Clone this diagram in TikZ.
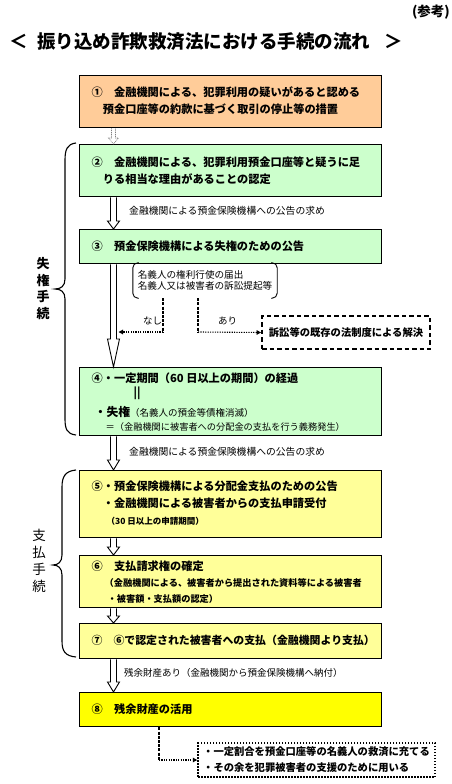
\documentclass[tikz,border=0pt]{standalone}
\usepackage{fontspec}
\setmainfont{Noto Sans CJK JP}
\usetikzlibrary{calc,arrows.meta}
\definecolor{cOrange}{HTML}{FFCC99}
\definecolor{cGreen}{HTML}{CCFFCC}
\definecolor{cLYellow}{HTML}{FFFF99}
\definecolor{cYellow}{HTML}{FFFF00}
\newcommand\blkarrow[6][]{%
  \draw[blk,#1] let \p1=($(#2.south west)+(34.5pt,0)$), \p2=($(#3.north west)+(34.5pt,0)$) in
  (\x1-#5,\y1) -- (\x1-#5,\y2+#4) -- (\x1-#6,\y2+#4) -- (\x1,\y2) -- (\x1+#6,\y2+#4) -- (\x1+#5,\y2+#4) -- (\x1+#5,\y1);}
\begin{document}
\begin{tikzpicture}[x=1pt,y=-1pt,
  box/.style={draw=black, line width=1.4pt, anchor=north west, inner sep=0pt, minimum width=302pt},
  btxt/.style={anchor=west, align=left, inner sep=0pt, font=\bfseries\fontsize{11.2}{17}\selectfont},
  lbl/.style={anchor=west, inner sep=0pt, font=\fontsize{9.8}{12}\selectfont},
  blk/.style={draw=black, fill=white, line width=0.9pt, line join=miter},
  vdash/.style={draw=black, line width=1.4pt, dash pattern=on 3pt off 1.2pt},
  hdot/.style={draw=black, line width=1.1pt, dash pattern=on 1.2pt off 1.2pt, -{Triangle[length=4.5pt,width=4.5pt]}},
  brk/.style={draw=black, line width=0.9pt, rounded corners=5pt},
  brace/.style={draw=black, line width=1.1pt},
  side/.style={align=center, inner sep=0pt, font=\bfseries\fontsize{13}{16.5}\selectfont}
]
\useasboundingbox (0,0) rectangle (452,784);
\fill[white] (0,0) rectangle (452,784);

% header
\node[anchor=east, inner sep=0pt, font=\bfseries\fontsize{13.5}{14}\selectfont] (sanko) at (450,12) {(参考)};
\node[anchor=west, inner sep=0pt, font=\bfseries\fontsize{18.5}{20}\selectfont] (title) at (9,42) {＜\hspace{0.3em}\hspace{4pt}振り込め詐欺救済法における手続の流れ\hspace{0.3em}\hspace{9pt}＞};

% boxes
\node[box, fill=cOrange, minimum height=52pt] (b1) at (79,75) {};
\node[box, fill=cGreen, minimum height=52pt] (b2) at (79,144) {};
\node[box, fill=cGreen, minimum height=34pt] (b3) at (79,229) {};
\node[box, fill=cGreen, minimum height=68pt] (b4) at (79,367) {};
\node[box, fill=cLYellow, minimum height=67pt] (b5) at (79,470) {};
\node[box, fill=cLYellow, minimum height=52pt] (b6) at (79,555) {};
\node[box, fill=cLYellow, minimum height=35pt] (b7) at (79,623) {};
\node[box, fill=cYellow, minimum height=34pt] (b8) at (79,692) {};

% box texts
\node[btxt] (t1) at (91.5,101) {①　金融機関による、犯罪利用の疑いがあると認める\\\hspace*{11.2pt}預金口座等の約款に基づく取引の停止等の措置};
\node[btxt] (t2) at (91.5,170.5) {②　金融機関による、犯罪利用預金口座等と疑うに足\\\hspace*{11.2pt}りる相当な理由があることの認定};
\node[btxt] (t3) at (91.5,246) {③　預金保険機構による失権のための公告};
\node[btxt] (t4) at (91.5,402) {④・一定期間（60 日以上の期間）の経過\\[-3pt]\hspace*{42pt}||\\[3pt]\hspace*{3pt}{\fontsize{11.8}{17}\selectfont ・失権}{\mdseries\fontsize{9.5}{12}\selectfont （名義人の預金等債権消滅）}\\[-3pt]{\mdseries\fontsize{9.2}{12}\selectfont\hspace*{14pt}＝（金融機関に被害者への分配金の支払を行う義務発生）}};
\node[btxt] (t5) at (91.5,503.5) {⑤・預金保険機構による分配金支払のための公告\\\hspace*{11.2pt}・金融機関による被害者からの支払申請受付\\{\fontsize{8.5}{12}\selectfont\hspace*{15pt}（30 日以上の申請期間）}};
\node[btxt, font=\bfseries\fontsize{11.2}{16}\selectfont] (t6) at (91.5,582) {⑥　支払請求権の確定\\{\fontsize{9.2}{12}\selectfont\hspace*{13pt}（金融機関による、被害者から提出された資料等による被害者}\\{\fontsize{9.2}{12}\selectfont\hspace*{16pt}・被害額・支払額の認定）}};
\node[btxt, font=\bfseries\fontsize{10.9}{17}\selectfont] (t7) at (91.5,640.5) {⑦　⑥で認定された被害者への支払（金融機関より支払）};
\node[btxt] (t8) at (91.5,709) {⑧　残余財産の活用};

% block arrows
\blkarrow[draw=gray, line width=0.6pt, dash pattern=on 1pt off 0.8pt]{b1}{b2}{6pt}{2pt}{5pt}
\blkarrow{b2}{b3}{8pt}{3pt}{6pt}
\blkarrow{b3}{b4}{28pt}{3pt}{6pt}
\blkarrow{b4}{b5}{10pt}{3pt}{6pt}
\blkarrow{b5}{b6}{8pt}{3pt}{6pt}
\blkarrow{b6}{b7}{7pt}{3pt}{6pt}
\blkarrow{b7}{b8}{10pt}{3pt}{6pt}

% arrow labels
\node[lbl] (l23) at (129,211) {金融機関による預金保険機構への公告の求め};
\node[lbl] (l45) at (129,452) {金融機関による預金保険機構への公告の求め};
\node[lbl, font=\fontsize{9.5}{12}\selectfont] (l78) at (124,673) {残余財産あり（金融機関から預金保険機構へ納付）};

% bracket list
\node[align=left, inner sep=0pt, minimum width=144pt, minimum height=35pt, font=\fontsize{9.6}{11.5}\selectfont] (nm) at (205,280.5) {名義人の権利行使の届出\\名義人又は被害者の訴訟提起等};
\draw[brk] ([xshift=6pt]nm.north west) -- (nm.north west) -- (nm.south west) -- ([xshift=6pt]nm.south west);
\draw[brk] ([xshift=-6pt]nm.north east) -- (nm.north east) -- (nm.south east) -- ([xshift=-6pt]nm.south east);

\node[lbl, font=\fontsize{9.5}{12}\selectfont] (nashi) at (143,321) {なし};
\node[lbl, font=\fontsize{9.5}{12}\selectfont] (ari) at (218,321) {あり};

\node[draw=black, dash pattern=on 4.5pt off 3pt, line width=1.8pt, minimum width=168pt, minimum height=33pt, inner sep=0pt, font=\bfseries\fontsize{10.3}{12}\selectfont] (sk) at (346,332.5) {訴訟等の既存の法制度による解決};

\coordinate (k1) at (163,332);
\coordinate (k2) at (198,332);
\coordinate (shaft) at (118.5,332);
\draw[vdash] (nm.south -| k1) -- (k1);
\draw[hdot] (k1) -- (shaft);
\draw[vdash] (nm.south -| k2) -- (k2);
\draw[hdot] (k2) -- (sk.west);

% bottom dotted box
\node[draw=black, dash pattern=on 1.5pt off 1.5pt, line width=1.5pt, minimum width=237pt, minimum height=34pt, inner sep=0pt, align=left, font=\bfseries\fontsize{10.3}{16}\selectfont] (db) at (316.5,760) {・一定割合を預金口座等の名義人の救済に充てる\\・その余を犯罪被害者の支援のために用いる};
\coordinate (k3) at (159,760);
\draw[vdash] (b8.south -| k3) -- (k3);
\draw[hdot] (k3) -- (db.west);

% braces
\draw[brace] (76,143) .. controls (67,144) and (65,150) .. (65,160) -- (65,279) .. controls (65,286) and (61,289) .. (55,289) .. controls (61,289) and (65,292) .. (65,299) -- (65,419) .. controls (65,429) and (67,434) .. (76,435);
\draw[brace] (76,470) .. controls (65,471) and (62,477) .. (62,487) -- (62,555) .. controls (62,562) and (58,565) .. (53,565) .. controls (58,565) and (62,568) .. (62,575) -- (62,641) .. controls (62,651) and (65,656) .. (76,657);
\node[side] (s1) at (43,288.5) {失\\権\\手\\続};
\node[side, font=\fontsize{13.5}{17}\selectfont] (s2) at (39,560.5) {支\\払\\手\\続};
\end{tikzpicture}
\end{document}
